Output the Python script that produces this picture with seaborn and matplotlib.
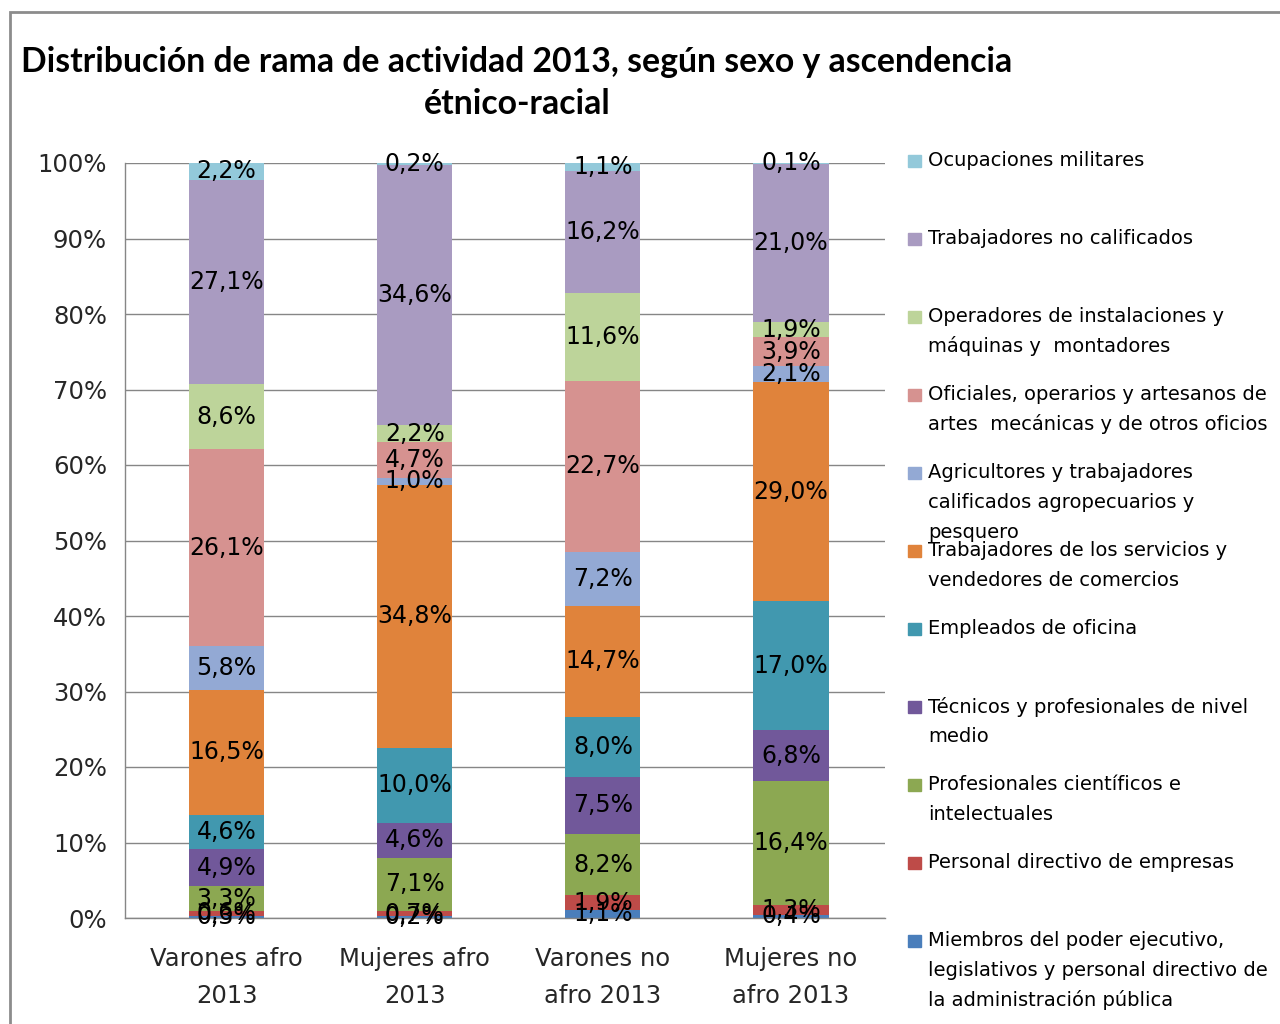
import numpy as np
import pandas as pd
import matplotlib
matplotlib.use("Agg")
import matplotlib.pyplot as plt
import seaborn as sns
from matplotlib.patches import Rectangle

categories = ["Varones afro\n2013", "Mujeres afro\n2013", "Varones no\nafro 2013", "Mujeres no\nafro 2013"]

series_names = [
    "Miembros del poder ejecutivo,\nlegislativos y personal directivo de\nla administración pública",
    "Personal directivo de empresas",
    "Profesionales científicos e\nintelectuales",
    "Técnicos y profesionales de nivel\nmedio",
    "Empleados de oficina",
    "Trabajadores de los servicios y\nvendedores de comercios",
    "Agricultores y trabajadores\ncalificados agropecuarios y\npesquero",
    "Oficiales, operarios y artesanos de\nartes  mecánicas y de otros oficios",
    "Operadores de instalaciones y\nmáquinas y  montadores",
    "Trabajadores no calificados",
    "Ocupaciones militares",
]

miembros = [0.3, 0.2, 1.1, 0.4]
personal = [0.6, 0.7, 1.9, 1.3]
profesionales = [3.3, 7.1, 8.2, 16.4]
tecnicos = [4.9, 4.6, 7.5, 6.8]
empleados = [4.6, 10.0, 8.0, 17.0]
servicios = [16.5, 34.8, 14.7, 29.0]
agricultores = [5.8, 1.0, 7.2, 2.1]
oficiales = [26.1, 4.7, 22.7, 3.9]
operadores = [8.6, 2.2, 11.6, 1.9]
no_calificados = [27.1, 34.6, 16.2, 21.0]
militares = [2.2, 0.2, 1.1, 0.1]

values = [miembros, personal, profesionales, tecnicos, empleados, servicios,
          agricultores, oficiales, operadores, no_calificados, militares]

colors = ["#4A7EBB", "#BE4B48", "#8CA852", "#71589A", "#4198AF", "#E0833B",
          "#93A9D4", "#D69290", "#BDD49A", "#A99BC1", "#93C9DA"]

yticks = [0, 10, 20, 30, 40, 50, 60, 70, 80, 90, 100]
ytick_labels = [f"{t}%" for t in yticks]

sns.set_style("white")
plt.rcParams["font.family"] = ["DejaVu Sans"]

W, H = 1280, 1024
fig = plt.figure(figsize=(W / 100, H / 100), dpi=100)
ax = fig.add_axes([125 / W, 1 - 918 / H, (885 - 125) / W, (918 - 163) / H])

vals = np.array(values, dtype=float)          # series x categories
totals = vals.sum(axis=0)
norm = vals / totals * 100.0
cum = np.cumsum(norm, axis=0)

# draw from top series down so lower ones overlay
for i in range(len(series_names) - 1, -1, -1):
    df = pd.DataFrame({"cat": categories, "cum": cum[i]})
    sns.barplot(data=df, x="cat", y="cum", order=categories, color=colors[i],
                saturation=1, width=0.4, ax=ax, linewidth=0, errorbar=None)

# data labels
for i in range(len(series_names)):
    for j in range(len(categories)):
        center = cum[i, j] - norm[i, j] / 2
        ax.text(j, center, f"{vals[i, j]:.1f}%".replace(".", ","),
                ha="center", va="center", fontsize=17, color="black")

ax.set_ylim(0, 100)
ax.set_xlim(-0.54, 3.5)
ax.set_yticks(yticks)
ax.set_yticklabels(ytick_labels, fontsize=17.5)
ax.set_xlabel("")
ax.set_ylabel("")
ax.set_xticks(range(len(categories)))
ax.set_xticklabels(categories, fontsize=17.5, linespacing=1.7)
ax.tick_params(axis="x", which="major", length=0, pad=21)
ax.set_xticks([-0.5, 0.5, 1.5, 2.5, 3.5], minor=True)
ax.tick_params(axis="x", which="minor", length=10, color="#868686", width=1, direction="out")
ax.tick_params(axis="y", length=7, color="#868686", width=1, direction="out", pad=6)
ax.yaxis.grid(True, color="#868686", linewidth=1)
ax.set_axisbelow(True)
for s in ["top", "right"]:
    ax.spines[s].set_visible(False)
for s in ["left", "bottom"]:
    ax.spines[s].set_color("#868686")
    ax.spines[s].set_linewidth(1)

# title
fig.text(517 / W, 1 - 62 / H, "Distribución de rama de actividad 2013, según sexo y ascendencia",
         ha="center", va="center", fontsize=24.3, fontweight="bold", family="Lato", color="black")
fig.text(517 / W, 1 - 104 / H, "étnico-racial",
         ha="center", va="center", fontsize=24.3, fontweight="bold", family="Lato", color="black")

# legend (top entry = top series)
y0 = 161
for k, i in enumerate(range(len(series_names) - 1, -1, -1)):
    ytop = y0 + 78 * k
    fig.patches.append(Rectangle((908 / W, 1 - (ytop + 6) / H), 13 / W, 12 / H,
                                 transform=fig.transFigure, color=colors[i], figure=fig))
    for li, line in enumerate(series_names[i].split("\n")):
        fig.text(928 / W, 1 - (ytop + 29.5 * li) / H, line, ha="left", va="center",
                 fontsize=14.0, color="black")

# outer border
fig.patches.append(Rectangle((10 / W, -0.05), 1.1, 1 - 12 / H + 0.05, transform=fig.transFigure,
                             fill=False, edgecolor="#8C8C8C", linewidth=2, figure=fig))

fig.savefig("out.png", dpi=100)
